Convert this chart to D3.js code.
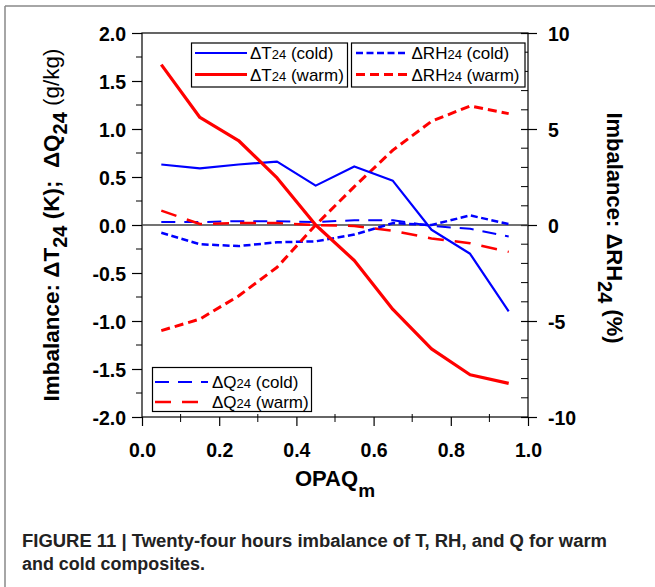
<!DOCTYPE html>
<html lang="en">
<head>
    <meta charset="UTF-8">
    <title>Twenty-four hours imbalance</title>
    <script src="https://d3js.org/d3.v7.min.js"></script>
    <style>
        body { margin: 0; background: #fff; }
        svg { font-family: Arial, "Liberation Sans", sans-serif; }
        .tick text { font-size: 19.5px; font-weight: bold; fill: #000; }
        .legend text { font-size: 17px; }
    </style>
</head>
<body>
    <svg width="655" height="587"></svg>
    <script>
        const width = 655;
        const height = 587;
        const svg = d3.select("svg");

        // data
        const opaq = [0.05, 0.15, 0.25, 0.35, 0.45, 0.55, 0.65, 0.75, 0.85, 0.95];
        const tCold = [0.63, 0.59, 0.63, 0.66, 0.41, 0.61, 0.46, -0.05, -0.30, -0.90];
        const tWarm = [1.67, 1.12, 0.88, 0.49, 0.00, -0.37, -0.88, -1.29, -1.56, -1.65];
        const rhCold = [-0.4, -1.0, -1.1, -0.9, -0.85, -0.5, 0.1, 0.0, 0.5, 0.05];
        const rhWarm = [-5.5, -4.9, -3.7, -2.2, 0.0, 2.0, 3.9, 5.4, 6.2, 5.8];
        const qCold = [0.03, 0.03, 0.04, 0.04, 0.03, 0.05, 0.05, -0.01, -0.04, -0.12];
        const qWarm = [0.15, 0.01, 0.02, 0.02, 0.00, -0.01, -0.06, -0.14, -0.19, -0.28];

        const xTicks = [0, 0.2, 0.4, 0.6, 0.8, 1.0];
        const yTicks = [-2, -1.5, -1, -0.5, 0, 0.5, 1, 1.5, 2];
        const rhTicks = [-10, -5, 0, 5, 10];

        const plot = { left: 142, right: 528, top: 33, bottom: 417 };

        const x = d3.scaleLinear().domain([0, 1]).range([plot.left, plot.right]);
        const y = d3.scaleLinear().domain([-2, 2]).range([plot.bottom, plot.top]);
        const yRH = d3.scaleLinear().domain([-10, 10]).range([plot.bottom, plot.top]);

        // plain hyphen for negatives, like the original
        const fmt1 = d => d3.format(".1f")(d).replace("\u2212", "-");
        const fmt0 = d => d3.format("d")(d).replace("\u2212", "-");

        // outer figure frame (grey)
        svg.append("line").attr("x1", 5).attr("x2", 655).attr("y1", 6).attr("y2", 6)
            .attr("stroke", "#888").attr("stroke-width", 1.5);
        svg.append("line").attr("x1", 5).attr("x2", 5).attr("y1", 6).attr("y2", 587)
            .attr("stroke", "#888").attr("stroke-width", 1.5);

        // minor ticks
        const g = svg.append("g");
        g.selectAll("line.xminor").data(d3.range(0.1, 1, 0.2)).enter().append("line")
            .attr("x1", d => x(d)).attr("x2", d => x(d))
            .attr("y1", plot.bottom - 3).attr("y2", plot.bottom + 5)
            .attr("stroke", "#000").attr("stroke-width", 1);
        g.selectAll("line.yminor").data(d3.range(-1.75, 2, 0.5)).enter().append("line")
            .attr("x1", plot.left - 6).attr("x2", plot.left)
            .attr("y1", d => y(d)).attr("y2", d => y(d))
            .attr("stroke", "#000").attr("stroke-width", 1);
        g.selectAll("line.rhminor").data(d3.range(-9, 10, 1).filter(d => d % 5 !== 0)).enter().append("line")
            .attr("x1", plot.right - 7).attr("x2", plot.right)
            .attr("y1", d => yRH(d)).attr("y2", d => yRH(d))
            .attr("stroke", "#000").attr("stroke-width", 1);

        // axes
        const xAxis = svg.append("g")
            .attr("transform", `translate(0,${plot.bottom})`)
            .call(d3.axisBottom(x).tickValues(xTicks).tickFormat(fmt1).tickSize(9).tickPadding(17));
        const yAxis = svg.append("g")
            .attr("transform", `translate(${plot.left},0)`)
            .call(d3.axisLeft(y).tickValues(yTicks).tickFormat(fmt1).tickSize(10).tickPadding(6));
        const rAxis = svg.append("g")
            .attr("transform", `translate(${plot.right},0)`)
            .call(d3.axisRight(yRH).tickValues(rhTicks).tickFormat(fmt0).tickSize(9).tickPadding(11));
        rAxis.selectAll(".tick line").attr("x1", -7);

        [xAxis, yAxis, rAxis].forEach(a => {
            a.select(".domain").remove();
            a.selectAll(".tick line").attr("stroke", "#000").attr("stroke-width", 1.2);
        });
        yAxis.selectAll(".tick text").attr("dy", "0.36em");
        rAxis.selectAll(".tick text").attr("dy", "0.36em");

        // plot frame
        svg.append("rect")
            .attr("x", plot.left).attr("y", plot.top)
            .attr("width", plot.right - plot.left).attr("height", plot.bottom - plot.top)
            .attr("fill", "none").attr("stroke", "#000").attr("stroke-width", 1.2);

        // zero line
        svg.append("line")
            .attr("x1", plot.left).attr("x2", plot.right)
            .attr("y1", y(0)).attr("y2", y(0))
            .attr("stroke", "#444").attr("stroke-width", 1.5);

        // series
        const series = [
            { name: "qCold", values: qCold, scale: y, color: "#0000ff", width: 2, dash: "14,9" },
            { name: "qWarm", values: qWarm, scale: y, color: "#ff0000", width: 2.5, dash: "16,11" },
            { name: "rhCold", values: rhCold, scale: yRH, color: "#0000ff", width: 2.5, dash: "7,3.5" },
            { name: "rhWarm", values: rhWarm, scale: yRH, color: "#ff0000", width: 3, dash: "9,5" },
            { name: "tCold", values: tCold, scale: y, color: "#0000ff", width: 2.2, dash: null },
            { name: "tWarm", values: tWarm, scale: y, color: "#ff0000", width: 3.2, dash: null }
        ];

        series.forEach(s => {
            const line = d3.line()
                .x((d, i) => x(opaq[i]))
                .y(d => s.scale(d));
            svg.append("path")
                .datum(s.values)
                .attr("d", line)
                .attr("fill", "none")
                .attr("stroke", s.color)
                .attr("stroke-width", s.width)
                .attr("stroke-dasharray", s.dash)
                .attr("stroke-linejoin", "round");
        });

        // legends
        function legendBox(x0, y0, w, h, items, textX) {
            const lg = svg.append("g").attr("class", "legend");
            lg.append("rect")
                .attr("x", x0).attr("y", y0).attr("width", w).attr("height", h)
                .attr("fill", "#fff").attr("stroke", "#000").attr("stroke-width", 1.2);
            items.forEach(it => {
                lg.append("line")
                    .attr("x1", it.x1).attr("x2", it.x2)
                    .attr("y1", it.y).attr("y2", it.y)
                    .attr("stroke", it.color).attr("stroke-width", it.width)
                    .attr("stroke-dasharray", it.dash);
                const t = lg.append("text").attr("x", textX).attr("y", it.y + 6);
                t.append("tspan").text(it.sym);
                t.append("tspan").attr("font-size", 13).text("24");
                t.append("tspan").text(" " + it.label);
            });
        }

        legendBox(191.5, 43, 156, 44, [
            { x1: 195, x2: 247, y: 53, color: "#0000ff", width: 2.2, dash: null, sym: "\u0394T", label: "(cold)" },
            { x1: 195, x2: 247, y: 74.5, color: "#ff0000", width: 3.2, dash: null, sym: "\u0394T", label: "(warm)" }
        ], 250);
        legendBox(351.5, 43, 173.5, 44, [
            { x1: 356, x2: 407, y: 53, color: "#0000ff", width: 2.5, dash: "7,3.5", sym: "\u0394RH", label: "(cold)" },
            { x1: 356, x2: 407, y: 74.5, color: "#ff0000", width: 3, dash: "9,5", sym: "\u0394RH", label: "(warm)" }
        ], 411.5);
        legendBox(152.5, 367.5, 159, 44, [
            { x1: 155, x2: 208, y: 382, color: "#0000ff", width: 2, dash: "14,9", sym: "\u0394Q", label: "(cold)" },
            { x1: 155, x2: 208, y: 402, color: "#ff0000", width: 2.5, dash: "16,11", sym: "\u0394Q", label: "(warm)" }
        ], 212);

        // axis titles
        const xt = svg.append("text")
            .attr("x", 335).attr("y", 486)
            .attr("text-anchor", "middle")
            .attr("font-size", 22).attr("font-weight", "bold");
        xt.append("tspan").text("OPAQ");
        xt.append("tspan").attr("dy", 11).attr("font-size", 19).text("m");

        const lt = svg.append("text")
            .attr("transform", "translate(59,225) rotate(-90)")
            .attr("text-anchor", "middle")
            .style("white-space", "pre")
            .attr("font-size", 22.5).attr("font-weight", "bold");
        lt.append("tspan").text("Imbalance: \u0394T");
        lt.append("tspan").attr("dy", 8).attr("font-size", 20).text("24");
        lt.append("tspan").attr("dy", -8).text(" (K);  \u0394Q");
        lt.append("tspan").attr("dy", 8).attr("font-size", 20).text("24");
        lt.append("tspan").attr("dy", -8).attr("font-weight", "normal").text(" (g/kg)");

        const rt = svg.append("text")
            .attr("transform", "translate(607,228) rotate(90)")
            .attr("text-anchor", "middle")
            .attr("font-size", 22).attr("font-weight", "bold");
        rt.append("tspan").text("Imbalance: \u0394RH");
        rt.append("tspan").attr("dy", 9).attr("font-size", 20).text("24");
        rt.append("tspan").attr("dy", -9).text(" (%)");

        // caption
        const cap = svg.append("g")
            .attr("font-family", "'Liberation Sans Narrow', 'Arial Narrow', Arial, sans-serif")
            .attr("font-weight", "bold").attr("font-size", 18).attr("fill", "#222");
        cap.append("text").attr("x", 22).attr("y", 547)
            .attr("textLength", 585).attr("lengthAdjust", "spacingAndGlyphs")
            .text("FIGURE 11 | Twenty-four hours imbalance of T, RH, and Q for warm");
        cap.append("text").attr("x", 22).attr("y", 570)
            .attr("textLength", 183).attr("lengthAdjust", "spacingAndGlyphs")
            .text("and cold composites.");
    </script>
</body>
</html>
